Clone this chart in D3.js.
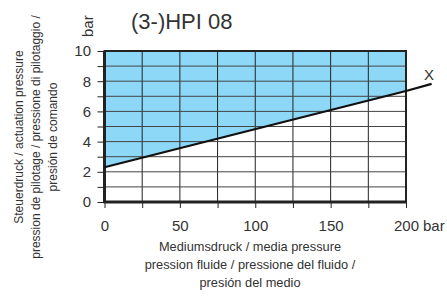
<!DOCTYPE html>
<html>
<head>
<meta charset="utf-8">
<script src="https://cdn.jsdelivr.net/npm/d3@7"></script>
<style>
  body { margin: 0; background: #fff; }
  svg { font-family: "Liberation Sans", Arial, sans-serif; }
</style>
</head>
<body>
<svg width="447" height="297"></svg>
<script>
let title = '(3-)HPI 08';
let xTicks = [0, 25, 50, 75, 100, 125, 150, 175, 200];
let xLabels = [0, 50, 100, 150, 200];
let yTicks = [0, 1, 2, 3, 4, 5, 6, 7, 8, 9, 10];
let yLabels = [0, 2, 4, 6, 8, 10];
// boundary line: media pressure -> actuation pressure
let lineX = [0, 200, 217];
let lineY = [2.3, 7.35, 7.82];
let yTitle = ['Steuerdruck / actuation pressure', 'pression de pilotage / pressione di pilotaggio /', 'presión de comando'];
let xTitle = ['Mediumsdruck / media pressure', 'pression fluide / pressione del fluido /', 'presión del medio'];

let textColor = '#333';
let svg = d3.select('svg');

let xScale = d3.scaleLinear().domain([0, 200]).range([104.5, 406]);
let yScale = d3.scaleLinear().domain([0, 10]).range([202, 51]);

// shaded area above the line
let area = d3.area()
             .x(d => xScale(d[0]))
             .y0(yScale(10))
             .y1(d => yScale(d[1]));
svg.append('path')
   .datum([[lineX[0], lineY[0]], [lineX[1], lineY[1]]])
   .attr('d', area)
   .attr('fill', '#8dd8f7');

// grid
svg.append('g')
   .selectAll('line')
   .data(xTicks.slice(1, -1))
   .enter()
   .append('line')
   .attr('x1', d => xScale(d)).attr('x2', d => xScale(d))
   .attr('y1', yScale(10)).attr('y2', yScale(0))
   .attr('stroke', '#222').attr('stroke-width', 1);

svg.append('g')
   .selectAll('line')
   .data(yTicks.slice(1, -1))
   .enter()
   .append('line')
   .attr('x1', xScale(0)).attr('x2', xScale(200))
   .attr('y1', d => yScale(d)).attr('y2', d => yScale(d))
   .attr('stroke', '#444').attr('stroke-width', 1);

// axes
let xAxis = d3.axisBottom(xScale)
              .tickValues(xTicks)
              .tickSize(6)
              .tickFormat(d => xLabels.includes(d) ? d : '');
let gx = svg.append('g')
            .attr('transform', `translate(0, ${yScale(0)})`)
            .call(xAxis);
gx.select('.domain').remove();
gx.selectAll('line').attr('stroke', '#222');
gx.selectAll('text')
  .attr('font-size', 15)
  .attr('font-family', '"Liberation Sans", Arial, sans-serif')
  .attr('fill', textColor)
  .attr('dy', null)
  .attr('y', 29);

let yAxis = d3.axisLeft(yScale)
              .tickValues(yTicks)
              .tickSize(7)
              .tickFormat(d => yLabels.includes(d) ? d : '');
let gy = svg.append('g')
            .attr('transform', `translate(${xScale(0)}, 0)`)
            .call(yAxis);
gy.select('.domain').remove();
gy.selectAll('line').attr('stroke', '#222');
gy.selectAll('text')
  .attr('font-size', 15)
  .attr('font-family', '"Liberation Sans", Arial, sans-serif')
  .attr('fill', textColor)
  .attr('x', -13.5);

// frame
svg.append('rect')
   .attr('x', xScale(0)).attr('y', yScale(10))
   .attr('width', xScale(200) - xScale(0))
   .attr('height', yScale(0) - yScale(10))
   .attr('fill', 'none')
   .attr('stroke', '#222').attr('stroke-width', 2);
svg.append('line')
   .attr('x1', xScale(0)).attr('x2', xScale(0))
   .attr('y1', yScale(10)).attr('y2', yScale(0) + 1)
   .attr('stroke', '#222').attr('stroke-width', 3);
svg.append('line')
   .attr('x1', xScale(0) - 1).attr('x2', xScale(200))
   .attr('y1', yScale(0)).attr('y2', yScale(0))
   .attr('stroke', '#222').attr('stroke-width', 3);

// boundary line
svg.append('path')
   .datum(lineX.map((x, i) => [x, lineY[i]]))
   .attr('d', d3.line().x(d => xScale(d[0])).y(d => yScale(d[1])))
   .attr('fill', 'none')
   .attr('stroke', '#111')
   .attr('stroke-width', 2.2);

svg.append('text')
   .attr('x', 429).attr('y', 80)
   .attr('text-anchor', 'middle')
   .attr('font-size', 15)
   .attr('fill', textColor)
   .text('X');

// title and units
svg.append('text')
   .attr('x', 131).attr('y', 29)
   .attr('font-size', 22)
   .attr('fill', textColor)
   .text(title);

svg.append('text')
   .attr('transform', 'translate(93, 37) rotate(-90)')
   .attr('font-size', 15)
   .attr('fill', textColor)
   .text('bar');

svg.append('text')
   .attr('x', xScale(200) + 17).attr('y', yScale(0) + 29)
   .attr('font-size', 15)
   .attr('fill', textColor)
   .text('bar');

// axis titles
let yt = svg.append('text')
            .attr('transform', 'translate(0, 137) rotate(-90)')
            .attr('text-anchor', 'middle')
            .attr('font-size', 12)
            .attr('fill', textColor);
yTitle.forEach((t, i) => {
    yt.append('tspan').attr('x', 0).attr('y', 23 + i * 16.8).text(t);
});

let xt = svg.append('text')
            .attr('text-anchor', 'middle')
            .attr('font-size', 12.8)
            .attr('fill', textColor);
xTitle.forEach((t, i) => {
    xt.append('tspan').attr('x', 250).attr('y', 251 + i * 18).text(t);
});
</script>
</body>
</html>
